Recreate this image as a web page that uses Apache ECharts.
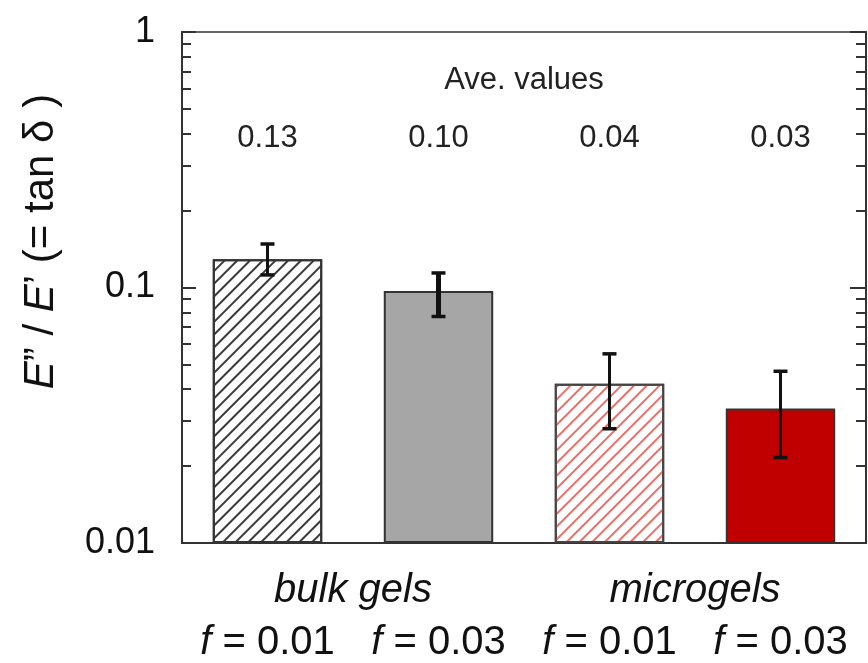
<!DOCTYPE html>
<html>
<head>
<meta charset="utf-8">
<script src="https://cdn.jsdelivr.net/npm/echarts@6/dist/echarts.min.js"></script>
<style>
html,body{margin:0;padding:0;background:#fff;}
#c{width:868px;height:663px;}
</style>
</head>
<body>
<div id="c"></div>
<script>
// ---- data ----
const categories = ['f = 0.01', 'f = 0.03', 'f = 0.01 ', 'f = 0.03 '];
const groups = ['bulk gels', 'microgels'];
const values = [0.129, 0.097, 0.042, 0.0336];
const errHigh = [0.148, 0.114, 0.055, 0.047];
const errLow = [0.112, 0.077, 0.028, 0.0216];
const aveLabels = ['0.13', '0.10', '0.04', '0.03'];
const majorTicks = [0.01, 0.1, 1];
const minorTicks = [0.02,0.03,0.04,0.05,0.06,0.07,0.08,0.09,0.2,0.3,0.4,0.5,0.6,0.7,0.8,0.9];
const Y_MIN = 0.01, Y_MAX = 1;

// ---- styles ----
const FONT = '"Liberation Sans", Arial, sans-serif';
const hatch = (c) => ({symbol:'rect', symbolSize:1, dashArrayX:[1,0], dashArrayY:[1.6,6.2], rotation: -Math.PI/4, color:c});
const barStyles = [
  {color:'#ffffff', borderColor:'#333', borderWidth:2, decal: hatch('#3a3a3a')},
  {color:'#a6a6a6', borderColor:'#333', borderWidth:2},
  {color:'#ffffff', borderColor:'#444', borderWidth:2, decal: hatch('#e8706a')},
  {color:'#c00000', borderColor:'#333', borderWidth:2}
];
const errWidths = [3, 5, 3, 3];

const chart = echarts.init(document.getElementById('c'), null, {renderer:'canvas'});

const yBase = {type:'log', logBase:10, min:Y_MIN, max:Y_MAX, splitLine:{show:false}, gridIndex:0};

chart.setOption({
  animation:false,
  grid:{left:182, right:2, top:32, bottom:119, show:true, borderColor:'#333', borderWidth:1.5},
  graphic:[{type:'text', x:524, y:80, style:{text:'Ave. values', fontSize:31, fontFamily:FONT, fill:'#222', align:'center', verticalAlign:'middle'}}],
  xAxis:[
    {type:'category', data:categories, position:'bottom', boundaryGap:true,
     axisLine:{lineStyle:{color:'#333', width:2}}, axisTick:{show:false},
     axisLabel:{interval:0, margin:80, fontSize:40, color:'#111', fontFamily:FONT,
       formatter:(v)=>'{i|f} = ' + v.replace('f = ','').trim(),
       rich:{i:{fontStyle:'italic', fontSize:40, fontFamily:FONT, color:'#111'}}}},
    {type:'category', data:groups, position:'bottom', boundaryGap:true,
     axisLine:{show:false}, axisTick:{show:false},
     axisLabel:{interval:0, margin:28, fontSize:40, fontStyle:'italic', color:'#111', fontFamily:FONT}},
    {type:'category', data:aveLabels, position:'top', boundaryGap:true,
     axisLine:{show:false}, axisTick:{show:false},
     axisLabel:{interval:0, margin:-122, fontSize:31, color:'#222', fontFamily:FONT}}
  ],
  yAxis:[
    Object.assign({}, yBase, {position:'left',
      axisLine:{show:true, lineStyle:{color:'#333', width:2}},
      axisTick:{show:true, inside:true, length:14, customValues:majorTicks, lineStyle:{color:'#333', width:2}},
      axisLabel:{margin:27, fontSize:36, color:'#111', fontFamily:FONT, customValues:majorTicks,
        formatter:(v)=>String(+Number(v).toPrecision(1))},
      name:'{i|E}” / {i|E}’ (= tan δ )', nameLocation:'middle', nameGap:120,
      nameTextStyle:{fontSize:42, color:'#111', fontFamily:FONT, padding:[0,0,0,92],
        rich:{i:{fontStyle:'italic', fontSize:42, fontFamily:FONT, color:'#111'}}}}),
    Object.assign({}, yBase, {position:'left',
      axisLine:{show:false},
      axisTick:{show:true, inside:true, length:9, customValues:minorTicks, lineStyle:{color:'#333', width:2}},
      axisLabel:{show:false}}),
    Object.assign({}, yBase, {position:'right',
      axisLine:{show:true, lineStyle:{color:'#333', width:2}},
      axisTick:{show:true, inside:true, length:16, customValues:majorTicks, lineStyle:{color:'#333', width:2}},
      axisLabel:{show:false}}),
    Object.assign({}, yBase, {position:'right',
      axisLine:{show:false},
      axisTick:{show:true, inside:true, length:10, customValues:minorTicks, lineStyle:{color:'#333', width:2}},
      axisLabel:{show:false}})
  ],
  series:[
    {type:'bar', stack:'b', xAxisIndex:0, yAxisIndex:0, barWidth:'64%', silent:true,
     itemStyle:{color:'rgba(0,0,0,0)'}, data: values.map(()=>Y_MIN)},
    {type:'bar', stack:'b', xAxisIndex:0, yAxisIndex:0, barWidth:'64%',
     data: values.map((v,i)=>({value:v - Y_MIN, itemStyle:barStyles[i]}))},
    {type:'custom', xAxisIndex:0, yAxisIndex:0, z:5,
     data: categories.map((c,i)=>[i, errLow[i], errHigh[i]]),
     renderItem:(params, api)=>{
       const i = api.value(0);
       const lo = api.coord([i, api.value(1)]);
       const hi = api.coord([i, api.value(2)]);
       const w = errWidths[params.dataIndex];
       const cap = 7;
       const st = {stroke:'#111', lineWidth:w};
       const cst = {stroke:'#111', lineWidth:3.5};
       return {type:'group', children:[
         {type:'line', shape:{x1:lo[0], y1:lo[1], x2:hi[0], y2:hi[1]}, style:st},
         {type:'line', shape:{x1:hi[0]-cap, y1:hi[1], x2:hi[0]+cap, y2:hi[1]}, style:cst},
         {type:'line', shape:{x1:lo[0]-cap, y1:lo[1], x2:lo[0]+cap, y2:lo[1]}, style:cst}
       ]};
     }}
  ]
});
</script>
</body>
</html>
